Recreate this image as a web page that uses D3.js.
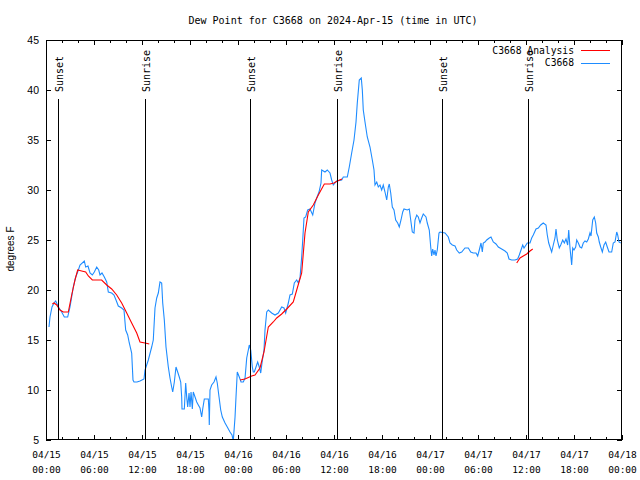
<!DOCTYPE html>
<html><head><meta charset="utf-8">
<script src="https://cdn.jsdelivr.net/npm/d3@7"></script>
<style>body{margin:0;background:#fff}</style>
</head><body>
<svg id="c" width="640" height="480"></svg>
<script>
// ---- data (hours since 2024-04-15 00:00 UTC) ----
const obsHours = [0.375,0.5,0.75,1.0,1.21,1.63,1.96,2.29,2.71,3.0,3.21,3.41,3.71,3.96,4.25,4.79,4.96,5.25,5.5,5.79,6.04,6.34,6.59,6.75,7.0,7.29,7.59,7.79,8.21,8.5,8.75,9.04,9.46,9.75,9.96,10.21,10.41,10.71,10.875,11.0,11.375,11.75,12.25,12.375,12.79,13.21,13.41,13.625,13.84,14.04,14.25,14.46,14.59,14.79,15.0,15.29,15.5,15.71,15.84,16.04,16.25,16.46,16.66,16.84,16.96,17.0,17.29,17.46,17.59,17.71,17.88,18.0,18.13,18.29,18.41,18.63,18.84,19.04,19.25,19.46,19.59,19.79,20.29,20.38,20.41,20.5,20.71,21.0,21.25,21.41,21.63,21.84,22.04,22.38,22.66,23.0,23.25,23.41,23.63,23.75,23.91,24.16,24.38,24.66,24.88,25.09,25.29,25.41,25.59,25.79,25.91,26.04,26.25,26.46,26.66,26.84,27.0,27.25,27.375,27.59,27.79,28.21,28.625,29.04,29.46,29.75,29.96,30.29,30.5,30.79,31.04,31.34,31.54,31.75,31.96,32.09,32.25,32.46,32.71,33.0,33.34,33.625,33.84,34.125,34.375,34.46,34.875,35.16,35.5,35.71,35.91,36.34,36.96,37.16,37.66,37.91,38.21,38.5,38.75,38.91,39.16,39.41,39.54,39.66,39.875,40.16,40.5,40.79,41.0,41.125,41.34,41.54,41.75,41.96,42.16,42.375,42.59,42.79,42.91,43.09,43.29,43.5,43.71,43.96,44.16,44.375,44.59,44.75,45.16,45.41,45.59,45.79,46.0,46.125,46.34,46.54,46.75,46.96,47.16,47.5,47.66,47.91,48.09,48.21,48.34,48.5,48.625,48.75,48.91,49.125,49.25,49.875,50.29,50.5,50.79,51.125,51.34,51.66,51.96,52.375,52.79,53.09,53.41,53.75,53.96,54.16,54.375,54.54,54.66,54.875,55.09,55.41,55.625,55.91,56.25,56.54,56.96,57.375,57.66,57.875,58.21,58.625,58.96,59.16,59.375,59.59,59.75,60.0,60.16,60.5,60.71,60.91,61.25,61.54,61.84,62.16,62.5,62.66,62.84,63.0,63.21,63.41,63.625,63.75,63.91,64.16,64.34,64.59,64.79,65.0,65.21,65.34,65.5,65.625,65.71,65.84,66.0,66.21,66.34,66.54,66.75,66.96,67.16,67.375,67.59,67.79,68.0,68.125,68.34,68.54,68.71,68.84,69.04,69.16,69.34,69.54,69.75,69.96,70.16,70.375,70.71,70.91,71.125,71.34,71.46,71.625,71.84];
const obsValues = [16.3,17.3,18.3,18.7,18.9,18.2,17.8,17.3,17.3,18.3,19.3,20.3,21.3,21.8,22.5,22.9,22.3,22.4,21.7,21.5,21.8,22.3,22.0,21.5,21.7,21.3,20.8,19.8,19.7,19.5,19.0,18.4,18.2,18.0,16.0,15.5,14.7,13.7,11.0,10.8,10.8,10.9,11.1,12.0,13.0,14.3,15.0,18.2,19.2,19.7,20.8,20.7,18.7,17.0,14.3,12.3,11.2,10.3,9.8,10.8,12.3,11.8,11.3,10.8,9.3,8.1,8.1,10.7,9.3,8.3,9.7,8.3,9.8,8.1,9.8,9.3,8.8,8.5,8.2,7.3,8.1,9.1,9.1,7.8,6.5,10.0,10.5,10.8,11.3,10.7,9.3,8.0,7.3,6.7,6.3,5.8,5.5,4.9,7.3,9.3,11.8,11.3,10.8,10.8,11.2,13.2,14.0,14.5,14.0,12.3,11.8,11.8,12.3,12.8,12.3,11.7,12.7,14.0,16.0,17.8,18.0,17.7,17.5,17.7,18.3,18.2,17.7,18.7,19.5,19.6,20.7,21.0,20.7,21.2,23.3,25.0,27.2,27.3,28.0,28.1,27.5,28.7,29.2,29.8,30.7,32.0,31.8,32.0,31.7,31.0,30.5,30.9,31.0,31.3,31.3,32.3,33.7,35.0,36.8,38.7,41.0,41.2,40.0,38.0,36.8,35.3,34.3,33.0,32.0,30.5,30.8,30.3,30.5,30.0,30.5,29.8,29.0,30.3,30.6,29.7,28.3,28.0,27.0,26.7,26.3,27.0,27.8,28.1,28.0,28.1,27.0,25.8,25.7,27.0,27.5,27.3,26.7,27.2,27.6,27.3,26.7,26.0,24.3,23.4,24.1,23.5,24.0,23.4,24.0,25.7,25.8,25.7,25.3,24.7,24.5,24.4,24.0,23.7,23.8,24.2,24.2,23.8,23.7,23.7,23.4,24.0,24.7,23.8,24.7,24.8,25.0,25.2,25.3,24.8,24.6,24.3,24.1,23.9,23.7,23.1,23.0,23.0,23.1,23.5,24.0,24.5,24.2,24.5,24.7,24.7,25.2,25.5,26.1,26.2,26.5,26.7,26.5,25.5,24.7,24.3,23.8,24.5,25.2,26.1,25.0,24.2,24.5,25.0,24.7,25.1,24.5,26.0,24.2,23.2,22.5,24.2,24.0,24.3,25.0,24.7,24.3,24.2,24.7,24.9,24.8,25.1,25.7,25.4,27.0,27.3,26.7,25.7,25.3,24.8,24.3,23.8,24.5,24.8,24.3,23.8,23.8,24.7,24.8,25.8,25.5,24.8,24.7];

const anaHours = [0.79,1.0,1.34,1.75,2.16,2.79,3.21,3.625,3.96,4.46,4.96,5.29,5.79,6.96,7.59,8.21,8.84,9.46,10.09,10.71,11.34,11.75,12.375,12.91,18.0,24.25,24.875,25.71,26.125,26.75,27.25,27.79,28.41,28.84,29.46,30.09,30.91,31.34,31.96,32.375,32.79,33.41,34.04,34.79,35.5,36.0,36.41,37.0,48.0,58.84,59.25,59.66,60.09,60.5,60.84];
const anaValues = [18.6,18.7,18.5,18.0,17.8,17.8,19.5,21.0,22.0,21.9,21.8,21.4,21.0,21.0,20.5,20.1,19.5,18.7,17.7,16.7,15.7,14.8,14.7,14.6,null,11.0,11.1,11.4,11.5,12.2,13.8,16.3,16.8,17.2,17.6,18.1,18.8,20.0,21.7,25.7,27.8,28.5,29.5,30.6,30.6,30.7,30.9,31.1,null,22.7,23.2,23.4,23.6,23.9,24.1];

const sunHours = [1.54,12.41,25.54,36.41,49.54,60.29];
const sunLabels = ["Sunset","Sunrise","Sunset","Sunrise","Sunset","Sunrise"];
const yTicks = [5,10,15,20,25,30,35,40,45];
const seriesNames = ["C3668 Analysis","C3668"];
const seriesColors = ["#ff0000","#1e8cff"];
const titleText = "Dew Point for C3668 on 2024-Apr-15 (time in UTC)";
const yLabel = "degrees F";

// ---- chart ----
const L=46,R=622,T=40,B=440;
const t0 = Date.UTC(2024,3,15);
const toDate = h => new Date(t0 + h*3600e3);
const x = d3.scaleUtc().domain([toDate(0), toDate(72)]).range([L,R]);
const y = d3.scaleLinear().domain([5,45]).range([B,T]);
const svg = d3.select("#c");
svg.append("rect").attr("width",640).attr("height",480).attr("fill","#fff");

const mono = "'DejaVu Sans Mono','Liberation Mono',monospace";
const sans = "'Liberation Sans','DejaVu Sans',sans-serif";

svg.append("text").attr("x",333).attr("y",24).attr("text-anchor","middle")
  .attr("font-family",mono).attr("font-size","10px").text(titleText);

svg.append("text").attr("transform","translate(14,249) rotate(-90)").attr("text-anchor","middle")
  .attr("font-family",sans).attr("font-size","10px").text(yLabel);

const major = d3.range(0,73,6).map(toDate);
const minor = d3.range(0,73,2).filter(h=>h%6!==0).map(toDate);

function clean(g){ g.select(".domain").remove(); g.selectAll("line").attr("stroke","#000").attr("shape-rendering","crispEdges"); }

const gb = svg.append("g").attr("transform",`translate(0,${B})`)
  .call(d3.axisBottom(x).tickValues(major).tickSize(-5).tickSizeOuter(0).tickFormat(()=>"")).call(clean);
gb.selectAll(".tick text").remove();
gb.selectAll(".tick").append("text").attr("font-family",mono).attr("font-size","9.5px")
  .attr("fill","#000").attr("text-anchor","middle")
  .call(t=>{
    t.append("tspan").attr("x",0).attr("y",18).text(d=>d3.utcFormat("%m/%d")(d));
    t.append("tspan").attr("x",0).attr("y",33).text(d=>d3.utcFormat("%H:%M")(d));
  });
svg.append("g").attr("transform",`translate(0,${B})`)
  .call(d3.axisBottom(x).tickValues(minor).tickSize(-3).tickSizeOuter(0).tickFormat(()=>"")).call(clean);
svg.append("g").attr("transform",`translate(0,${T})`)
  .call(d3.axisTop(x).tickValues(major).tickSize(-5).tickSizeOuter(0).tickFormat(()=>"")).call(clean);
svg.append("g").attr("transform",`translate(0,${T})`)
  .call(d3.axisTop(x).tickValues(minor).tickSize(-3).tickSizeOuter(0).tickFormat(()=>"")).call(clean);

const gl = svg.append("g").attr("transform",`translate(${L},0)`)
  .call(d3.axisLeft(y).tickValues(yTicks).tickSize(-5).tickSizeOuter(0).tickPadding(7)).call(clean);
gl.selectAll("text").attr("font-family",sans).attr("font-size","10.5px").attr("fill","#000");
svg.append("g").attr("transform",`translate(${R},0)`)
  .call(d3.axisRight(y).tickValues(yTicks).tickSize(-5).tickSizeOuter(0).tickFormat(()=>"")).call(clean);

// clip
svg.append("clipPath").attr("id","clip").append("rect").attr("x",L).attr("y",T).attr("width",R-L).attr("height",B-T);

const obs = obsHours.map((h,i)=>({d:toDate(h),v:obsValues[i]}));
const ana = anaHours.map((h,i)=>({d:toDate(h),v:anaValues[i]}));
const line = d3.line().defined(p=>p.v!==null).x(p=>x(p.d)).y(p=>y(p.v));

const gd = svg.append("g").attr("clip-path","url(#clip)");
gd.append("path").datum(obs).attr("d",line).attr("fill","none").attr("stroke",seriesColors[1]).attr("stroke-width",1.1);
gd.append("path").datum(ana).attr("d",line).attr("fill","none").attr("stroke",seriesColors[0]).attr("stroke-width",1.1);

// sun lines
const gs = svg.append("g");
sunHours.forEach((h,i)=>{
  const px = Math.round(x(toDate(h)))+0.5;
  gs.append("line").attr("x1",px).attr("x2",px).attr("y1",99).attr("y2",B).attr("stroke","#000").attr("stroke-width",1).attr("shape-rendering","crispEdges");
  gs.append("text").attr("transform",`translate(${px+4},92) rotate(-90)`).attr("text-anchor","start")
    .attr("font-family",mono).attr("font-size","10px").text(sunLabels[i]);
});

// legend
const lg = svg.append("g");
[0,1].forEach(i=>{
  const yy = 50 + i*12.5;
  lg.append("text").attr("x",574).attr("y",yy+3.5).attr("text-anchor","end")
    .attr("font-family",mono).attr("font-size","9.7px").text(seriesNames[i]);
  lg.append("line").attr("x1",581).attr("x2",610).attr("y1",Math.round(yy)+0.5).attr("y2",Math.round(yy)+0.5)
    .attr("stroke",seriesColors[i]).attr("stroke-width",1).attr("shape-rendering","crispEdges");
});

// frame
svg.append("rect").attr("x",L+0.5).attr("y",T+0.5).attr("width",R-L-1).attr("height",B-T-1)
  .attr("fill","none").attr("stroke","#000").attr("shape-rendering","crispEdges");
</script>
</body></html>
